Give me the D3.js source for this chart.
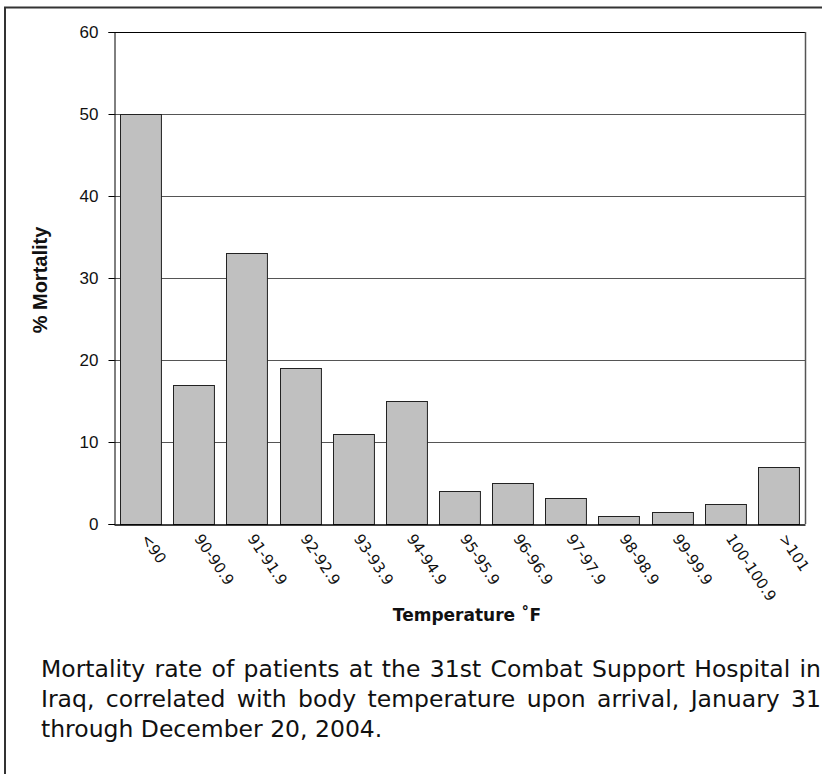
<!DOCTYPE html>
<html>
<head>
<meta charset="utf-8">
<script src="https://cdn.jsdelivr.net/npm/d3@7"></script>
<style>
  html, body { margin: 0; padding: 0; background: #fff; }
  #wrap { position: relative; width: 822px; height: 774px; overflow: hidden; }
  svg { position: absolute; left: 0; top: 0; }
  #caption {
    position: absolute; left: 41px; top: 654px; width: 780px;
    font-family: "DejaVu Sans", Verdana, sans-serif; font-size: 23.5px;
    line-height: 30px; color: #111; text-align: justify;
  }
</style>
</head>
<body>
<div id="wrap">
<svg id="chart" width="822" height="774"></svg>
<div id="caption"></div>
</div>
<script>
const categories = ["<90","90-90.9","91-91.9","92-92.9","93-93.9","94-94.9","95-95.9","96-96.9","97-97.9","98-98.9","99-99.9","100-100.9",">101"];
const mortality = [50, 17, 33, 19, 11, 15, 4, 5, 3.2, 1, 1.5, 2.5, 7];
const yTicks = [0, 10, 20, 30, 40, 50, 60];
const yLabel = "% Mortality";
const xLabel = "Temperature ˚F";
const captionText = "Mortality rate of patients at the 31st Combat Support Hospital in Iraq, correlated with body temperature upon arrival, January 31 through December 20, 2004.";

const svg = d3.select("#chart");
const pL = 114, pR = 805, pT = 32, pB = 524;

// outer frame
svg.append("path")
  .attr("d", "M5,830 V7.5 H830")
  .attr("fill", "none").attr("stroke", "#333").attr("stroke-width", 2);

const x = d3.scaleBand().domain(categories).range([pL, pR]).paddingInner(0.23).paddingOuter(0.115);
const y = d3.scaleLinear().domain([0, 60]).range([pB, pT]);

// gridlines
svg.append("g").selectAll("line").data(yTicks.filter(d => d > 0)).join("line")
  .attr("x1", pL).attr("x2", pR)
  .attr("y1", d => Math.round(y(d)) + 0.5).attr("y2", d => Math.round(y(d)) + 0.5)
  .attr("stroke", d => d === 60 ? "#000" : "#555").attr("stroke-width", 1);

// right border
svg.append("line").attr("x1", pR + 0.5).attr("x2", pR + 0.5).attr("y1", pT).attr("y2", pB)
  .attr("stroke", "#555").attr("stroke-width", 1.5);

// bars
svg.append("g").selectAll("rect").data(categories).join("rect")
  .attr("x", d => Math.round(x(d)) + 0.5)
  .attr("y", (d, i) => Math.round(y(mortality[i])) + 0.5)
  .attr("width", x.bandwidth())
  .attr("height", (d, i) => Math.round(y(0)) - Math.round(y(mortality[i])))
  .attr("fill", "#c0c0c0").attr("stroke", "#222").attr("stroke-width", 1);

// y axis
const yAxis = d3.axisLeft(y).tickValues(yTicks).tickSize(6).tickPadding(10).tickFormat(d3.format("d"));
const gy = svg.append("g").attr("transform", `translate(${pL + 0.5},0)`).call(yAxis);
gy.select(".domain").attr("stroke", "#000");
gy.selectAll(".tick line").attr("stroke", "#000");
gy.selectAll(".tick text").attr("font-family", "'Liberation Sans', Arial, sans-serif")
  .attr("font-size", 17).attr("fill", "#111");

// x axis baseline
const xAxis = d3.axisBottom(x).tickSize(0).tickPadding(0);
const gx = svg.append("g").attr("transform", `translate(0,${pB + 0.5})`).call(xAxis);
gx.select(".domain").attr("stroke", "#000").attr("stroke-width", 1.5);
gx.selectAll(".tick text")
  .attr("font-family", "'DejaVu Sans', Verdana, sans-serif")
  .attr("font-size", 15).attr("fill", "#111")
  .attr("text-anchor", "start")
  .attr("dy", 0).attr("y", 0)
  .attr("transform", "translate(0,14) rotate(56)");

// axis titles
svg.append("text")
  .attr("transform", `translate(47,280) rotate(-90)`)
  .attr("text-anchor", "middle")
  .attr("font-family", "'Liberation Sans', Arial, sans-serif")
  .attr("font-weight", "bold").attr("font-size", 20).attr("fill", "#111")
  .text(yLabel);

svg.append("text")
  .attr("x", 467).attr("y", 621)
  .attr("text-anchor", "middle")
  .attr("font-family", "'DejaVu Sans', Verdana, sans-serif")
  .attr("font-weight", "bold").attr("font-size", 17).attr("fill", "#111")
  .text(xLabel);

d3.select("#caption").text(captionText);
</script>
</body>
</html>
